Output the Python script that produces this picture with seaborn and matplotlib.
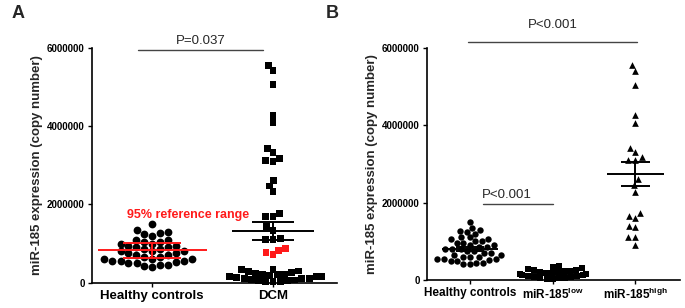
import numpy as np
import pandas as pd
import matplotlib
matplotlib.use("Agg")
import matplotlib.pyplot as plt
import seaborn as sns

# ---- data ----
healthy = [1500000, 1350000, 1300000, 1270000, 1250000, 1200000, 1100000, 1100000,
           1050000, 1050000, 1000000, 1000000, 950000, 950000, 900000, 900000,
           850000, 850000, 800000, 800000, 800000, 750000, 750000, 700000,
           700000, 650000, 650000, 600000, 600000, 600000, 550000, 550000,
           550000, 520000, 500000, 500000, 450000, 450000, 420000, 400000]

dcm_black = [5550000, 5410000, 5060000, 4280000, 4080000, 3430000, 3320000, 3170000,
             3120000, 3100000, 2610000, 2470000, 2320000, 1770000, 1700000, 1700000,
             1430000, 1340000, 1130000, 1110000, 1110000,
             350000, 330000, 300000, 280000, 250000, 230000, 220000, 200000,
             200000, 180000, 170000, 150000, 150000, 130000, 120000, 100000,
             100000, 80000, 70000, 60000, 50000, 40000, 30000, 20000]
dcm_red = [830000, 720000, 770000, 870000]

mir_low = [350000, 330000, 300000, 280000, 260000, 250000, 230000, 220000, 200000,
           200000, 180000, 170000, 150000, 150000, 130000, 120000, 100000,
           100000, 80000, 70000, 60000, 50000, 40000, 30000, 20000]
mir_high = [5550000, 5400000, 5050000, 4250000, 4050000, 3400000, 3300000, 3170000,
            3100000, 3100000, 2600000, 2450000, 2280000, 1720000, 1650000, 1590000,
            1400000, 1380000, 1100000, 1100000, 900000]

# summary lines: (mean, lower, upper)
healthy_a_lines = (830000, 640000, 1020000)
dcm_lines = (1320000, 1090000, 1540000)
healthy_b_lines = (800000, 750000, 850000)
low_lines = (150000, 130000, 170000)
high_lines = (2740000, 2430000, 3050000)

cats_a = ["Healthy controls", "DCM"]
cats_b = ["Healthy controls", "low", "high"]
tick_labels_b = ["Healthy controls", r"miR-185$^{\mathbf{low}}$", r"miR-185$^{\mathbf{high}}$"]
yticks = [0, 2000000, 4000000, 6000000]
ytick_labels = ["0", "2000000", "4000000", "6000000"]

sns.set_style("ticks")
plt.rcParams["font.family"] = ["Liberation Sans", "DejaVu Sans"]
plt.rcParams["mathtext.fontset"] = "custom"
plt.rcParams["mathtext.rm"] = "Liberation Sans:bold"
plt.rcParams["mathtext.bf"] = "Liberation Sans:bold"

fig = plt.figure(figsize=(6.85, 3.08), dpi=100)
ax_a = fig.add_axes([0.134, 0.082, 0.358, 0.763])
ax_b = fig.add_axes([0.623, 0.091, 0.370, 0.754])


def style_axis(ax, xlim):
    ax.set_ylim(0, 6000000)
    ax.set_xlim(*xlim)
    ax.set_yticks(yticks)
    ax.set_yticklabels(ytick_labels, fontsize=7, fontweight="bold")
    ax.set_ylabel("miR-185 expression (copy number)", fontsize=9.5, fontweight="bold", labelpad=3)
    ax.set_xlabel("")
    for s in ["top", "right"]:
        ax.spines[s].set_visible(False)
    for s in ["left", "bottom"]:
        ax.spines[s].set_linewidth(1.2)
        ax.spines[s].set_color("black")
    ax.tick_params(axis="both", length=3, width=1, colors="black", pad=2)


def summary(ax, x, vals, wide, narrow, color):
    mean, lo, hi = vals
    ax.hlines(mean, x - wide, x + wide, color=color, lw=1.4, zorder=5)
    ax.hlines([lo, hi], x - narrow, x + narrow, color=color, lw=1.4, zorder=5)
    ax.vlines(x, lo, hi, color=color, lw=1.4, zorder=5)


# ---- panel A ----
df_h = pd.DataFrame({"group": "Healthy controls", "value": healthy})
df_d = pd.DataFrame({"group": "DCM",
                     "value": dcm_black + dcm_red,
                     "col": ["k"] * len(dcm_black) + ["r"] * len(dcm_red)})
sns.swarmplot(data=df_h, x="group", y="value", order=cats_a, ax=ax_a,
              marker="o", color="black", size=5.6, linewidth=0, clip_on=False)
sns.swarmplot(data=df_d, x="group", y="value", order=cats_a, ax=ax_a, hue="col",
              palette={"k": "black", "r": "#ff1a1a"}, marker="s", size=5.0,
              linewidth=0, clip_on=False, legend=False)
summary(ax_a, 0, healthy_a_lines, 0.45, 0.24, "#ff1a1a")
summary(ax_a, 1, dcm_lines, 0.34, 0.17, "black")
style_axis(ax_a, (-0.5, 1.53))
ax_a.set_xticks([0, 1])
ax_a.set_xticklabels(cats_a, fontsize=9.5, fontweight="bold")
ax_a.text(0.3, 1730000, "95% reference range", color="#ff1a1a", fontsize=9,
          fontweight="bold", ha="center", va="center")
ax_a.plot([-0.12, 0.92], [5940000, 5940000], color="#444444", lw=1, clip_on=False)
ax_a.text(0.4, 6170000, "P=0.037", fontsize=9.5, ha="center", va="center")

# ---- panel B ----
df_bh = pd.DataFrame({"group": "Healthy controls", "value": healthy})
df_bl = pd.DataFrame({"group": "low", "value": mir_low})
df_bhi = pd.DataFrame({"group": "high", "value": mir_high})
sns.swarmplot(data=df_bh, x="group", y="value", order=cats_b, ax=ax_b,
              marker="o", color="black", size=4.6, linewidth=0, clip_on=False)
sns.swarmplot(data=df_bl, x="group", y="value", order=cats_b, ax=ax_b,
              marker="s", color="black", size=4.2, linewidth=0, clip_on=False)
sns.swarmplot(data=df_bhi, x="group", y="value", order=cats_b, ax=ax_b,
              marker="^", color="black", size=4.8, linewidth=0, clip_on=False)
summary(ax_b, 0, healthy_b_lines, 0.34, 0.17, "black")
summary(ax_b, 1, low_lines, 0.34, 0.17, "black")
summary(ax_b, 2, high_lines, 0.34, 0.17, "black")
style_axis(ax_b, (-0.52, 2.54))
ax_b.set_xticks([0, 1, 2])
ax_b.set_xticklabels(tick_labels_b, fontsize=8.5, fontweight="bold")
ax_b.plot([-0.02, 2.02], [6160000, 6160000], color="#444444", lw=1, clip_on=False)
ax_b.text(1.0, 6590000, "P<0.001", fontsize=9.5, ha="center", va="center")
ax_b.plot([0.16, 1.0], [1960000, 1960000], color="#444444", lw=1, clip_on=False)
ax_b.text(0.45, 2200000, "P<0.001", fontsize=9.5, ha="center", va="center")

fig.text(0.017, 0.955, "A", fontsize=13, fontweight="bold", va="center")
fig.text(0.475, 0.955, "B", fontsize=13, fontweight="bold", va="center")

fig.savefig("out.png", dpi=100)
